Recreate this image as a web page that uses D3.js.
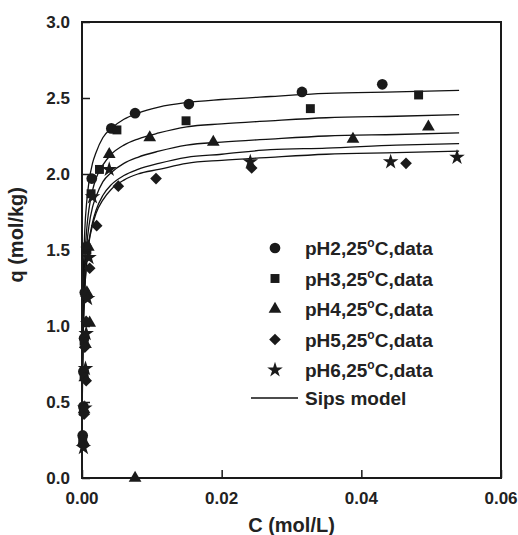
<!DOCTYPE html>
<html>
<head>
<meta charset="utf-8">
<script src="https://cdn.jsdelivr.net/npm/d3@7"></script>
<style>
body { margin: 0; background: #fff; }
text { font-family: "Liberation Sans", Arial, sans-serif; font-weight: bold; fill: #222; }
</style>
</head>
<body>
<div id="chart"></div>
<script>
var width = 518;
var height = 535;
var margin = {top: 22, right: 17, bottom: 57, left: 82};
var w = width - margin.left - margin.right;
var h = height - margin.top - margin.bottom;

// measured points (C mol/L, q mol/kg)
var ph2C = [0.0001, 0.0002, 0.0002, 0.0003, 0.0004, 0.0006, 0.0014, 0.0042, 0.0076, 0.0153, 0.0315, 0.0430];
var ph2Q = [0.28, 0.47, 0.70, 0.92, 1.22, 1.52, 1.97, 2.30, 2.40, 2.46, 2.54, 2.59];
var ph3C = [0.0001, 0.0002, 0.0003, 0.0003, 0.0005, 0.0007, 0.0013, 0.0025, 0.0050, 0.0149, 0.0327, 0.0482];
var ph3Q = [0.25, 0.44, 0.68, 0.90, 1.20, 1.50, 1.87, 2.03, 2.29, 2.35, 2.43, 2.52];
var ph4C = [0.0002, 0.0003, 0.0004, 0.0005, 0.0011, 0.0007, 0.0009, 0.0039, 0.0097, 0.0188, 0.0388, 0.0496, 0.0076];
var ph4Q = [0.24, 0.45, 0.66, 0.88, 1.02, 1.22, 1.52, 2.13, 2.24, 2.21, 2.23, 2.31, 0.0];
var ph5C = [0.0002, 0.0003, 0.0006, 0.0004, 0.0006, 0.0011, 0.0021, 0.0052, 0.0106, 0.0243, 0.0464];
var ph5Q = [0.22, 0.42, 0.64, 0.86, 1.03, 1.38, 1.66, 1.92, 1.97, 2.04, 2.07];
var ph6C = [0.0002, 0.0004, 0.0005, 0.0006, 0.0008, 0.0010, 0.0015, 0.0039, 0.0241, 0.0442, 0.0537];
var ph6Q = [0.20, 0.46, 0.72, 0.95, 1.18, 1.45, 1.85, 2.03, 2.08, 2.08, 2.11];

// Sips model curves
var modelC = [0, 0.00005, 0.0001, 0.0002, 0.0004, 0.0007, 0.001, 0.0015, 0.002, 0.003, 0.0042, 0.006, 0.008, 0.011, 0.015, 0.02, 0.027, 0.035, 0.045, 0.054];
var fit2 = [0, 0.80, 1.06, 1.35, 1.63, 1.83, 1.95, 2.07, 2.14, 2.24, 2.30, 2.36, 2.40, 2.44, 2.47, 2.49, 2.51, 2.53, 2.54, 2.55];
var fit3 = [0, 0.66, 0.89, 1.16, 1.44, 1.65, 1.77, 1.89, 1.97, 2.06, 2.13, 2.19, 2.23, 2.27, 2.31, 2.33, 2.35, 2.37, 2.38, 2.39];
var fit4 = [0, 0.60, 0.82, 1.08, 1.34, 1.54, 1.66, 1.78, 1.85, 1.95, 2.01, 2.07, 2.11, 2.15, 2.19, 2.21, 2.23, 2.25, 2.26, 2.27];
var fit5 = [0, 0.54, 0.75, 0.99, 1.24, 1.44, 1.56, 1.68, 1.76, 1.86, 1.93, 1.99, 2.03, 2.07, 2.11, 2.13, 2.16, 2.17, 2.19, 2.20];
var fit6 = [0, 0.55, 0.75, 0.99, 1.24, 1.43, 1.55, 1.66, 1.74, 1.83, 1.90, 1.96, 2.00, 2.03, 2.07, 2.09, 2.11, 2.13, 2.14, 2.15];

var legendNames = ["pH2", "pH3", "pH4", "pH5", "pH6"];
var xTicks = [0, 0.02, 0.04, 0.06];
var yTicks = [0, 0.5, 1.0, 1.5, 2.0, 2.5, 3.0];

var series = [
  {name: "pH2", c: ph2C, q: ph2Q, shape: "circle"},
  {name: "pH3", c: ph3C, q: ph3Q, shape: "square"},
  {name: "pH4", c: ph4C, q: ph4Q, shape: "triangle"},
  {name: "pH5", c: ph5C, q: ph5Q, shape: "diamond"},
  {name: "pH6", c: ph6C, q: ph6Q, shape: "star"}
];
var fits = [fit2, fit3, fit4, fit5, fit6];

var x = d3.scaleLinear().domain([0, 0.06]).range([0, w]);
var y = d3.scaleLinear().domain([0, 3]).range([h, 0]);

var svg = d3.select("#chart").append("svg")
  .attr("width", width)
  .attr("height", height)
  .append("g")
  .attr("transform", "translate(" + margin.left + "," + margin.top + ")");

function symbolPath(shape) {
  if (shape == "circle") return d3.symbol(d3.symbolCircle, 90)();
  if (shape == "square") return d3.symbol(d3.symbolSquare, 80)();
  if (shape == "triangle") return d3.symbol(d3.symbolTriangle, 70)();
  if (shape == "diamond") return d3.symbol(d3.symbolSquare, 68)();
  return d3.symbol(d3.symbolStar, 75)();
}
function symbolRot(shape) {
  return shape == "diamond" ? " rotate(45)" : "";
}

// model lines
var line = d3.line()
  .x(function(d) { return x(d[0]); })
  .y(function(d) { return y(d[1]); })
  .curve(d3.curveMonotoneX);

fits.forEach(function(f) {
  svg.append("path")
    .datum(modelC.map(function(c, i) { return [c, f[i]]; }))
    .attr("d", line)
    .attr("fill", "none")
    .attr("stroke", "#111")
    .attr("stroke-width", 1.3);
});

// data points
series.forEach(function(s) {
  svg.selectAll(".pt-" + s.name)
    .data(s.c.map(function(c, i) { return [c, s.q[i]]; }))
    .enter().append("path")
    .attr("class", "pt-" + s.name)
    .attr("d", symbolPath(s.shape))
    .attr("transform", function(d) { return "translate(" + x(d[0]) + "," + y(d[1]) + ")" + symbolRot(s.shape); })
    .attr("fill", "#1a1a1a");
});

// frame
svg.append("rect")
  .attr("width", w).attr("height", h)
  .attr("fill", "none").attr("stroke", "#1a1a1a").attr("stroke-width", 2);

// x axis: ticks point inward
var xAxis = svg.append("g").attr("transform", "translate(0," + h + ")");
xAxis.call(d3.axisTop(x).ticks(6).tickSize(4).tickFormat(""));
xAxis.call(d3.axisTop(x).tickValues(xTicks).tickSize(8).tickFormat(""));
xAxis.selectAll(".domain").remove();
xAxis.selectAll("line").attr("stroke", "#1a1a1a").attr("stroke-width", 1.5);
xAxis.selectAll(".lbl").data(xTicks).enter().append("text")
  .attr("x", function(d) { return x(d); })
  .attr("y", 26)
  .attr("text-anchor", "middle")
  .style("font-size", "17px")
  .text(d3.format(".2f"));

var yAxis = svg.append("g");
yAxis.call(d3.axisRight(y).ticks(12).tickSize(4).tickFormat(""));
yAxis.call(d3.axisRight(y).tickValues(yTicks).tickSize(8).tickFormat(""));
yAxis.selectAll(".domain").remove();
yAxis.selectAll("line").attr("stroke", "#1a1a1a").attr("stroke-width", 1.5);
yAxis.selectAll(".lbl").data(yTicks).enter().append("text")
  .attr("x", -12)
  .attr("y", function(d) { return y(d) + 6; })
  .attr("text-anchor", "end")
  .style("font-size", "17px")
  .text(d3.format(".1f"));

svg.append("text")
  .attr("x", w / 2)
  .attr("y", h + 54)
  .attr("text-anchor", "middle")
  .style("font-size", "20px")
  .text("C (mol/L)");

svg.append("text")
  .attr("transform", "translate(" + (-59) + "," + (y(1.6)) + ") rotate(-90)")
  .attr("text-anchor", "middle")
  .style("font-size", "20px")
  .text("q (mol/kg)");

// legend
var leg = svg.append("g").attr("transform", "translate(" + (275 - margin.left) + "," + (248 - margin.top) + ")");
series.forEach(function(s, i) {
  var row = leg.append("g").attr("transform", "translate(0," + (i * 30.5) + ")");
  row.append("path")
    .attr("d", symbolPath(s.shape))
    .attr("transform", "translate(0,0)" + symbolRot(s.shape))
    .attr("fill", "#1a1a1a");
  var t = row.append("text").attr("x", 30).attr("y", 7).style("font-size", "19px");
  t.append("tspan").text(legendNames[i] + ",25");
  t.append("tspan").attr("dy", -8).style("font-size", "12px").text("o");
  t.append("tspan").attr("dy", 8).text("C,data");
});
leg.append("line")
  .attr("x1", -24).attr("x2", 23)
  .attr("y1", 150).attr("y2", 150)
  .attr("stroke", "#111").attr("stroke-width", 1.3);
leg.append("text").attr("x", 30).attr("y", 157).style("font-size", "19px").text("Sips model");
</script>
</body>
</html>
